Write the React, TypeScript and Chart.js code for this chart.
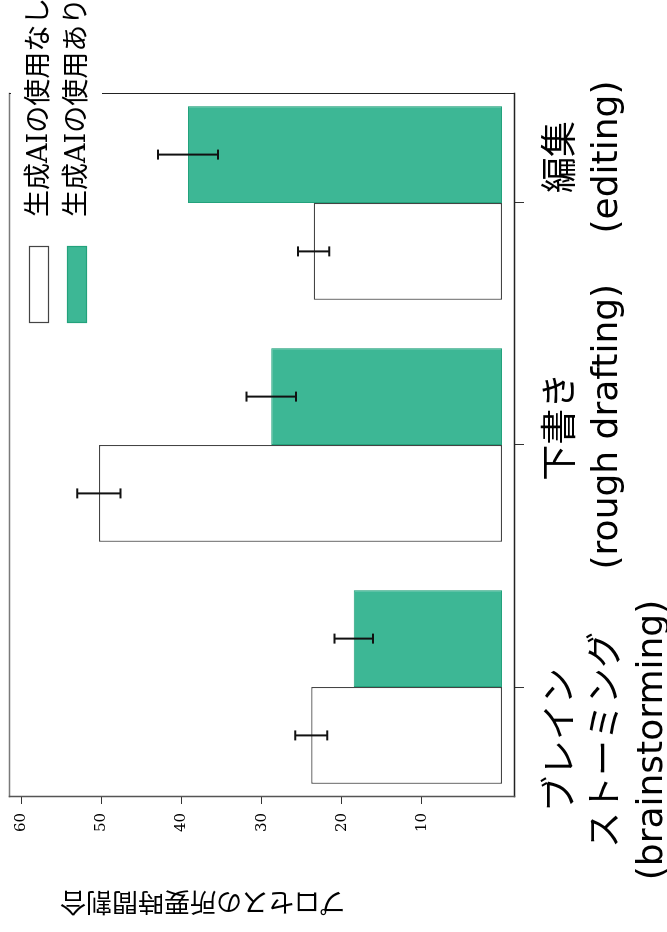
import React, { useEffect, useRef } from "react";
import { Chart, registerables } from "chart.js";

Chart.register(...registerables);

// ---- data ----
const categoryLabels: string[][] = [
  ["ブレイン", "ストーミング", "(brainstorming)"],
  ["下書き", "(rough drafting)"],
  ["編集", "(editing)"],
];
const seriesNames = ["生成AIの使用なし", "生成AIの使用あり"];
const withoutAI = [23.8, 50.3, 23.5];
const withoutAIErr = [2.0, 2.7, 1.95];
const withAI = [18.5, 28.8, 39.2];
const withAIErr = [2.4, 3.1, 3.75];
const yTicks = [10, 20, 30, 40, 50, 60];
const yTitle = "プロセスの所要時間割合";

// layout only: small horizontal nudges of the category label blocks (in category units)
const labelNudge = [0, 0.075, 0];

const W = 932;
const H = 667;

const framePlugin = {
  id: "frame",
  beforeDatasetsDraw(chart: any) {
    const { ctx, chartArea: a } = chart;
    const L = Math.round(a.left) + 0.5;
    const R = Math.round(a.right) - 0.5;
    const T = Math.round(a.top) + 0.5;
    const B = Math.round(a.bottom) - 0.5;
    ctx.save();
    ctx.lineCap = "square";
    const line = (x1: number, y1: number, x2: number, y2: number, c: string, w: number) => {
      ctx.strokeStyle = c;
      ctx.lineWidth = w;
      ctx.beginPath();
      ctx.moveTo(x1, y1);
      ctx.lineTo(x2, y2);
      ctx.stroke();
    };
    line(L, T, R, T, "#7a7a7a", 1.5);
    line(R, T, R, B, "#222", 1);
    line(L, B, R, B, "#222", 1.5);
    line(L, T, L, B, "#555", 1.5);
    ctx.restore();
  },
};

const errorBarPlugin = {
  id: "errorBars",
  afterDatasetsDraw(chart: any) {
    const { ctx } = chart;
    const yScale = chart.scales.y;
    ctx.save();
    ctx.strokeStyle = "#111";
    ctx.lineWidth = 2;
    chart.data.datasets.forEach((ds: any, d: number) => {
      const meta = chart.getDatasetMeta(d);
      meta.data.forEach((el: any, i: number) => {
        const v = ds.data[i].y;
        const e = ds.errors[i];
        const x = el.x;
        const y1 = yScale.getPixelForValue(v + e);
        const y2 = yScale.getPixelForValue(v - e);
        ctx.beginPath();
        ctx.moveTo(x, y1);
        ctx.lineTo(x, y2);
        ctx.moveTo(x - 5, y1);
        ctx.lineTo(x + 5, y1);
        ctx.moveTo(x - 5, y2);
        ctx.lineTo(x + 5, y2);
        ctx.stroke();
      });
    });
    ctx.restore();
  },
};

const legendTitlePlugin = {
  id: "legendTitle",
  afterDraw(chart: any) {
    const { ctx, chartArea: a } = chart;
    ctx.save();
    // legend background (covers frame under legend)
    ctx.fillStyle = "#ffffff";
    ctx.fillRect(a.right - 240, a.top + 2, 240 + 100, 91);
    const boxLeft = a.right - 230;
    const boxW = 77;
    const boxH = 20;
    chart.data.datasets.forEach((ds: any, i: number) => {
      const top = a.top + 20 + i * 38;
      ctx.fillStyle = ds.backgroundColor;
      ctx.fillRect(boxLeft, top, boxW, boxH);
      ctx.strokeStyle = ds.borderColor;
      ctx.lineWidth = 1.2;
      ctx.strokeRect(boxLeft + 0.5, top + 0.5, boxW - 1, boxH - 1);
      ctx.fillStyle = "#000";
      ctx.font = "27px 'DejaVu Serif', 'Noto Sans CJK JP'";
      ctx.textAlign = "left";
      ctx.textBaseline = "middle";
      ctx.fillText(ds.label, boxLeft + 106, top + boxH / 2 + 1);
    });
    // y-axis title
    ctx.translate(29, a.top + 194);
    ctx.rotate(-Math.PI / 2);
    ctx.fillStyle = "#000";
    ctx.font = "26px 'Noto Sans CJK JP'";
    ctx.textAlign = "center";
    ctx.textBaseline = "middle";
    ctx.fillText(yTitle, 0, 0);
    ctx.restore();
  },
};

export default function App() {
  const ref = useRef<HTMLCanvasElement | null>(null);

  useEffect(() => {
    document.body.style.margin = "0";
    const canvas = ref.current;
    if (!canvas) return;
    const chart = new Chart(canvas, {
      type: "bar",
      data: {
        datasets: [
          {
            label: seriesNames[0],
            data: withoutAI.map((v, i) => ({ x: i, y: v })),
            errors: withoutAIErr,
            backgroundColor: "#ffffff",
            borderColor: "#444444",
            borderWidth: 1.2,
            borderSkipped: false,
          } as any,
          {
            label: seriesNames[1],
            data: withAI.map((v, i) => ({ x: i, y: v })),
            errors: withAIErr,
            backgroundColor: "#3db795",
            borderColor: "#23a27c",
            borderWidth: 1,
            borderSkipped: false,
          } as any,
        ],
      },
      options: {
        responsive: false,
        maintainAspectRatio: false,
        devicePixelRatio: 1,
        animation: false,
        layout: { padding: { top: 9, right: 93, left: 0, bottom: 0 } },
        datasets: { bar: { categoryPercentage: 0.8, barPercentage: 1 } },
        plugins: { legend: { display: false }, tooltip: { enabled: false } },
        scales: {
          x: {
            type: "linear",
            position: "bottom",
            min: -0.4545,
            max: 2.4545,
            offset: false,
            weight: 0,
            afterBuildTicks: (s: any) => {
              s.ticks = categoryLabels.map((_, i) => ({ value: i }));
            },
            afterFit: (s: any) => {
              s.height = 9;
              s.paddingLeft = 0;
              s.paddingRight = 0;
            },
            grid: {
              display: true,
              offset: false,
              drawOnChartArea: false,
              drawTicks: true,
              tickLength: 9,
              color: "#333",
              lineWidth: 1,
            },
            border: { display: false },
            ticks: { display: false },
          },
          x2: {
            type: "linear",
            position: "bottom",
            min: -0.1955,
            max: 2.2195,
            offset: false,
            weight: 1,
            afterBuildTicks: (s: any) => {
              s.ticks = categoryLabels.map((_, i) => ({ value: i + labelNudge[i] }));
            },
            afterFit: (s: any) => {
              s.height = 143;
              s.paddingLeft = 0;
              s.paddingRight = 0;
            },
            grid: { display: false, drawOnChartArea: false },
            border: { display: false },
            ticks: {
              autoSkip: false,
              maxRotation: 0,
              minRotation: 0,
              padding: 8,
              color: "#000",
              font: { family: "'DejaVu Sans', 'Noto Sans CJK JP'", size: 36, lineHeight: 1.25 },
              callback: (_v: any, index: number) => categoryLabels[index] ?? "",
            },
          },
          y: {
            type: "linear",
            position: "left",
            min: -1.62,
            max: 61.53,
            afterBuildTicks: (s: any) => {
              s.ticks = yTicks.map((v) => ({ value: v }));
            },
            afterFit: (s: any) => {
              s.width = 135;
              s.paddingTop = 0;
              s.paddingBottom = 0;
            },
            grid: {
              display: true,
              drawOnChartArea: false,
              drawTicks: true,
              tickLength: 7,
              color: "#333",
            },
            border: { display: false },
            ticks: {
              padding: 9,
              color: "#000",
              font: { family: "'DejaVu Serif'", size: 15 },
              callback: (v: any) => String(v),
            },
          },
        },
      } as any,
      plugins: [framePlugin, errorBarPlugin, legendTitlePlugin],
    });
    return () => chart.destroy();
  }, []);

  return (
    <div
      style={{
        position: "absolute",
        left: 0,
        top: 0,
        width: H,
        height: W,
        overflow: "hidden",
        background: "#fff",
      }}
    >
      <div
        style={{
          position: "absolute",
          left: 0,
          top: 0,
          width: W,
          height: H,
          transformOrigin: "0 0",
          transform: `translate(0px, ${W}px) rotate(-90deg)`,
        }}
      >
        <canvas ref={ref} width={W} height={H} style={{ display: "block" }} />
      </div>
    </div>
  );
}
